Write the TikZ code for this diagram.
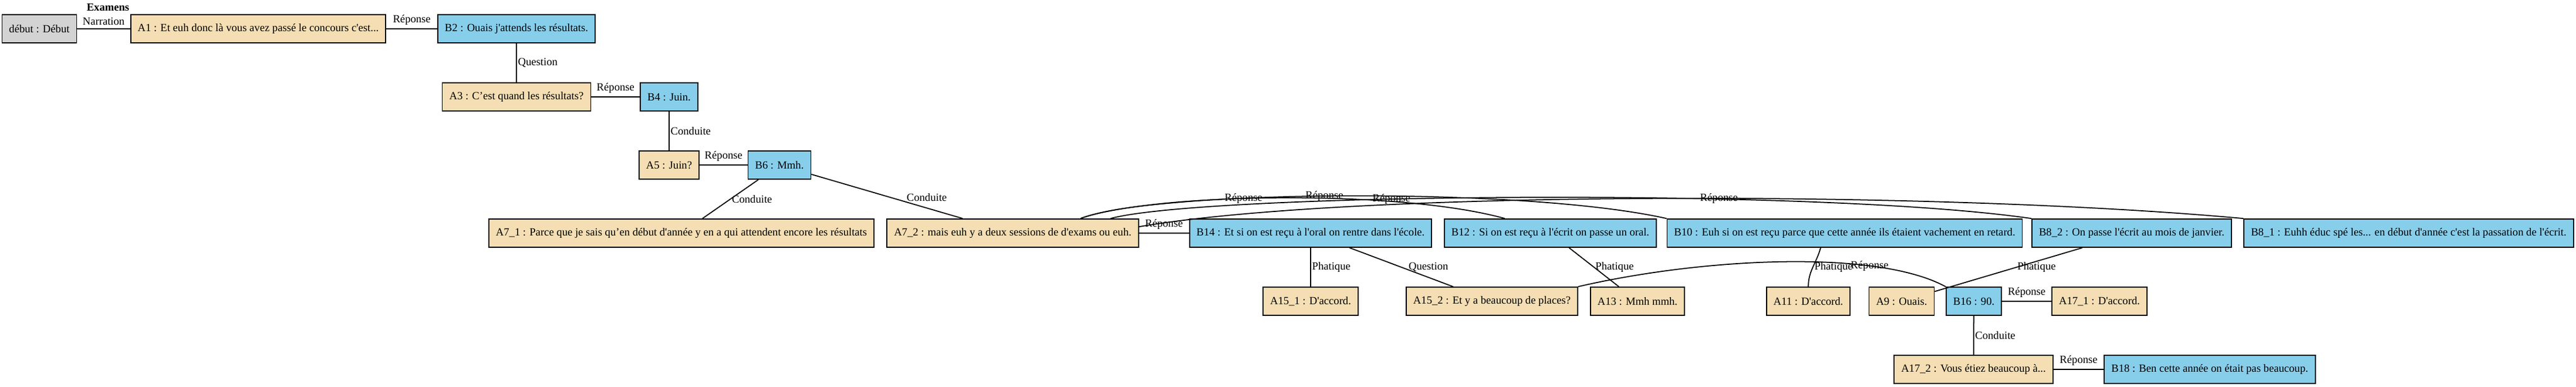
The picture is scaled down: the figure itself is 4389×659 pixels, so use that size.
\documentclass[tikz,border=0pt]{standalone}
\usepackage{fontspec}
\setmainfont{Liberation Serif}
\usepackage{tikz}
\usetikzlibrary{positioning}
\definecolor{wheat}{HTML}{F5DEB3}
\definecolor{skyblue}{HTML}{87CEEB}
\definecolor{lgrey}{HTML}{D3D3D3}
\newcommand{\apos}{\textquotesingle}
\begin{document}
\begin{tikzpicture}[x=0.01cm,y=-0.01cm,
    every node/.style={font=\fontsize{5.3}{6.4}\selectfont},
    box/.style={draw=black,line width=0.5pt,minimum height=0.48cm,inner xsep=0.12cm,inner ysep=0pt},
    abox/.style={box,fill=wheat},
    bbox/.style={box,fill=skyblue},
    startbox/.style={box,fill=lgrey},
    link/.style={draw=black,line width=0.5pt},
    lbl/.style={inner sep=1.6pt},
    vlbl/.style={inner xsep=0.5pt,inner ysep=0pt}]
    \useasboundingbox (0,0) rectangle (4389,659);

    \node[font=\fontsize{5.3}{6.4}\selectfont\bfseries] (title) at (184,13) {Examens};

    \node[startbox] (debut) at (67,49) {début : Début};
    \node[abox] (A1) at (440,49) {A1 : Et euh donc là vous avez passé le concours c\apos est...};
    \node[bbox] (B2) at (880,49) {B2 : Ouais j\apos attends les résultats.};
    \node[abox] (A3) at (880,165) {A3 : C’est quand les résultats?};
    \node[bbox] (B4) at (1140,165) {B4 : Juin.};
    \node[abox] (A5) at (1140,281) {A5 : Juin?};
    \node[bbox] (B6) at (1328,281) {B6 : Mmh.};
    \node[abox] (A71) at (1161,397) {A7\_1 : Parce que je sais qu’en début d\apos année y en a qui attendent encore les résultats};
    \node[abox] (A72) at (1725.5,397) {A7\_2 : mais euh y a deux sessions de d\apos exams ou euh.};
    \node[bbox] (B14) at (2233,397) {B14 : Et si on est reçu à l\apos oral on rentre dans l\apos école.};
    \node[bbox] (B12) at (2641.5,397) {B12 : Si on est reçu à l\apos écrit on passe un oral.};
    \node[bbox] (B10) at (3143,397) {B10 : Euh si on est reçu parce que cette année ils étaient vachement en retard.};
    \node[bbox] (B82) at (3632,397) {B8\_2 : On passe l\apos écrit au mois de janvier.};
    \node[bbox] (B81) at (4104,397) {B8\_1 : Euhh éduc spé les... en début d\apos année c\apos est la passation de l\apos écrit.};
    \node[abox] (A151) at (2233,513) {A15\_1 : D\apos accord.};
    \node[abox] (A152) at (2542,513) {A15\_2 : Et y a beaucoup de places?};
    \node[abox] (A13) at (2790,513) {A13 : Mmh mmh.};
    \node[abox] (A11) at (3081,513) {A11 : D\apos accord.};
    \node[abox] (A9) at (3240,513) {A9 : Ouais.};
    \node[bbox] (B16) at (3363,513) {B16 : 90.};
    \node[abox] (A171) at (3577,513) {A17\_1 : D\apos accord.};
    \node[abox] (A172) at (3362.5,629) {A17\_2 : Vous étiez beaucoup à...};
    \node[bbox] (B18) at (3765,629) {B18 : Ben cette année on était pas beaucoup.};

    \draw[link] (debut) -- node[lbl,above] {Narration} (A1);
    \draw[link] (A1) -- node[lbl,above] {Réponse} (B2);
    \draw[link] (B2) -- node[vlbl,right] {Question} (A3);
    \draw[link] (A3) -- node[lbl,above] {Réponse} (B4);
    \draw[link] (B4) -- node[vlbl,right] {Conduite} (A5);
    \draw[link] (A5) -- node[lbl,above] {Réponse} (B6);
    \draw[link] (B6) -- node[vlbl,right] {Conduite} (A71);
    \draw[link] (B6) -- node[vlbl,pos=0.62,anchor=south west] {Conduite} (A72);
    \draw[link] (A72) -- node[lbl,above] {Réponse} (B14);
    \draw[link] ([xshift=1.155cm]A72.north) .. controls +(119,-43) and +(-184,-51) .. node[pos=0.43,inner sep=0pt] {Réponse} ([xshift=-0.775cm]B12.north);
    \draw[link] ([xshift=1.155cm]A72.north) .. controls +(119,-48) and +(-245,-55) .. node[pos=0.47,inner sep=0pt] {Réponse} (B10.north west);
    \draw[link] ([xshift=1.665cm]A72.north) .. controls +(158,-43) and +(-365,-53) .. node[pos=0.38,inner sep=0pt] {Réponse} (B82.north west);
    \draw[link] ([yshift=-0.14cm]A72.north east) .. controls +(361,-62) and +(-524,-48) .. node[pos=0.55,inner sep=0pt] {Réponse} (B81.north west);
    \draw[link] (B14) -- node[vlbl,right] {Phatique} (A151);
    \draw[link] (B14) -- node[vlbl,right,xshift=0.1cm] {Question} (A152);
    \draw[link] (B12) -- node[vlbl,right] {Phatique} (A13);
    \draw[link] ([xshift=-0.41cm]B10.south) to[out=-105,in=90] node[vlbl,right] {Phatique} (A11);
    \draw[link] (A152.north east) .. controls +(212,-49) and +(-118,-64) .. node[pos=0.73,inner sep=0pt] {Réponse} (B16.north west);
    \draw[link] (B82) -- node[vlbl,pos=0.45,right] {Phatique} (A9);
    \draw[link] (B16) -- node[lbl,above] {Réponse} (A171);
    \draw[link] (B16) -- node[vlbl,right] {Conduite} (A172);
    \draw[link] (A172) -- node[lbl,above] {Réponse} (B18);
\end{tikzpicture}
\end{document}
